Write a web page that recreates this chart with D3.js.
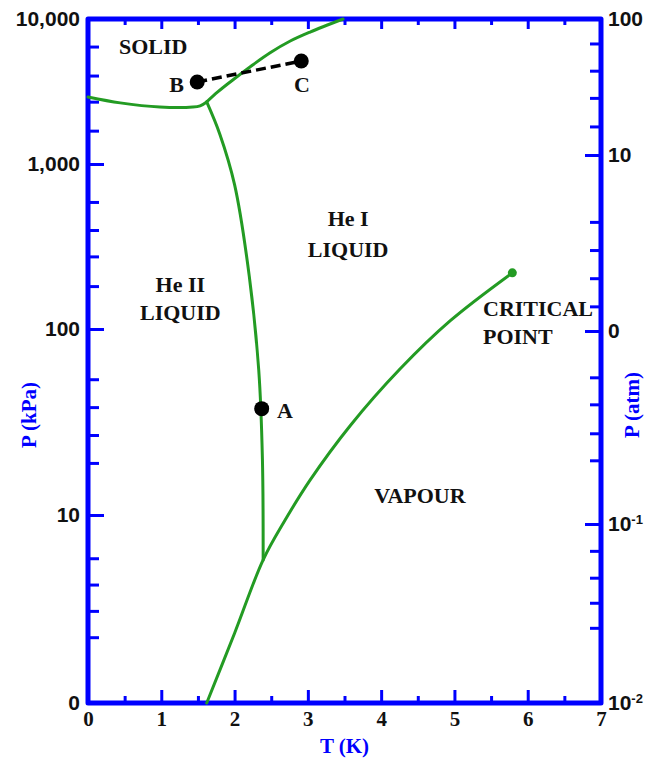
<!DOCTYPE html>
<html><head><meta charset="utf-8">
<script src="https://cdn.jsdelivr.net/npm/d3@7/dist/d3.min.js"></script>
<style>body{margin:0;background:#fff}</style>
</head><body>
<svg id="chart" width="649" height="761"></svg>
<script>
// ---------- data ----------
const tempTicks = [0,1,2,3,4,5,6,7];
const tempMinorTicks = [0.5,1.5,2.5,3.5,4.5,5.5,6.5];
const topMajorTicks = [1,2,3,4,5,6];
// left axis: pressure in kPa (decade exponents), schematic non-uniform decades
const kpaTickExps = [0,1,2,3,4];
const kpaTickLabels = ["0","10","100","1,000","10,000"];
const kpaMinorExps = [3.81,3.61,3.43,3.23, 2.77,2.60,2.44,2.26, 1.73,1.58,1.43,1.28, 0.77,0.63,0.49,0.35];
// right axis: pressure in atm (decade exponents)
const atmTickExps = [-2,-1,0,1,2];
const atmTickLabels = [["10","-2"],["10","-1"],["0",""],["10",""],["100",""]];
const atmMinorExps = [1.82,1.62,1.42,1.21, 0.62,0.46,0.30,0.14, -0.24,-0.38,-0.53,-0.67, -1.15,-1.30,-1.44,-1.58];

// phase boundaries (T in K, P in kPa)
const meltLowT = [0, 0.44, 0.98, 1.43, 1.53, 1.62];
const meltLowP = [2900, 2640, 2470, 2470, 2520, 2680];
const meltHighT = [1.62, 1.77, 1.94, 2.21, 2.48, 2.76, 3.03, 3.48];
const meltHighP = [2680, 3140, 3680, 4670, 5830, 7050, 8130, 10000];
const lambdaT = [1.62, 1.80, 2.00, 2.20, 2.33, 2.38, 2.39];
const lambdaP = [2680, 1600, 750, 210, 60, 20, 5.77];
const vapourT = [1.62, 2.0, 2.39, 2.69, 3.03, 3.58, 4.26, 4.94, 5.79];
const vapourP = [1.0, 2.35, 5.77, 9.40, 15.4, 30.3, 61.1, 112, 219];

const criticalPoint = {T:5.79, P:219};
const pointNames = ["A","B","C"];
const pointT = [2.37, 1.49, 2.91];
const pointP = [37.3, 3680, 5130];

const labelTexts = ["SOLID","B","C","He I","LIQUID","He II","LIQUID","CRITICAL","POINT","VAPOUR","A"];
const labelT = [0.89, 1.31, 2.92, 3.55, 3.55, 1.26, 1.26, 5.39, 5.39, 4.53, 2.58];
const labelP = [5740, 3140, 3140, 419, 275, 168, 113, 120, 83.2, 11.6, 33.4];
const labelAnchor = ["middle","end","middle","middle","middle","middle","middle","start","start","middle","start"];

// ---------- drawing ----------
const BLUE = "#0000ff", GREEN = "#239b23";
const svg = d3.select("#chart");
const x = d3.scaleLinear().domain([0,7]).range([88,601]);
const yExp = d3.scaleLinear().domain([0,1,2,3,4]).range([703,515,329,164,19]);
const yAtm = d3.scaleLinear().domain([-2,-1,0,1,2]).range([703,524,331,155,19]);
const yK = p => yExp(Math.log10(p));

const sans = "'Liberation Sans', Arial, sans-serif";
const serif = "'Liberation Serif', 'Times New Roman', serif";

function styleAxis(g, font, size){
  g.select(".domain").remove();
  g.selectAll(".tick line").attr("stroke", BLUE).attr("stroke-width", 3);
  g.selectAll(".tick text").attr("fill","#111").attr("font-family", font)
    .attr("font-weight","bold").attr("font-size", size);
}

// left major + minor
svg.append("g").attr("transform","translate(88,0)")
  .call(d3.axisLeft(yExp).tickValues(kpaTickExps).tickFormat((d,i)=>kpaTickLabels[i])
    .tickSizeInner(-16).tickSizeOuter(0).tickPadding(8))
  .call(g=>styleAxis(g, sans, 21));
svg.append("g").attr("transform","translate(88,0)")
  .call(d3.axisLeft(yExp).tickValues(kpaMinorExps).tickFormat("").tickSizeInner(-11).tickSizeOuter(0))
  .call(g=>styleAxis(g, sans, 21));

// right major + minor
const rightAx = svg.append("g").attr("transform","translate(601,0)")
  .call(d3.axisRight(yAtm).tickValues(atmTickExps).tickFormat("")
    .tickSizeInner(-16).tickSizeOuter(0).tickPadding(7))
  .call(g=>styleAxis(g, sans, 21));
rightAx.selectAll(".tick text").each(function(d){
  const i = atmTickExps.indexOf(d);
  const t = d3.select(this);
  t.text(null);
  t.append("tspan").text(atmTickLabels[i][0]);
  if (atmTickLabels[i][1]) t.append("tspan").attr("font-size",13).attr("dy","-0.55em").text(atmTickLabels[i][1]);
});
svg.append("g").attr("transform","translate(601,0)")
  .call(d3.axisRight(yAtm).tickValues(atmMinorExps).tickFormat("").tickSizeInner(-11).tickSizeOuter(0))
  .call(g=>styleAxis(g, sans, 21));

// bottom
svg.append("g").attr("transform","translate(0,703)")
  .call(d3.axisBottom(x).tickValues(tempTicks).tickFormat(d3.format("d"))
    .tickSizeInner(-13).tickSizeOuter(0).tickPadding(8))
  .call(g=>styleAxis(g, serif, 21));
svg.append("g").attr("transform","translate(0,703)")
  .call(d3.axisBottom(x).tickValues(tempMinorTicks).tickFormat("").tickSizeInner(-7).tickSizeOuter(0))
  .call(g=>styleAxis(g, serif, 21));
// top
svg.append("g").attr("transform","translate(0,19)")
  .call(d3.axisTop(x).tickValues(topMajorTicks).tickFormat("").tickSizeInner(-10).tickSizeOuter(0))
  .call(g=>styleAxis(g, serif, 21));
svg.append("g").attr("transform","translate(0,19)")
  .call(d3.axisTop(x).tickValues(tempMinorTicks).tickFormat("").tickSizeInner(-6).tickSizeOuter(0))
  .call(g=>styleAxis(g, serif, 21));

// frame
svg.append("rect").attr("x",x(0)).attr("y",yExp(4)).attr("width",x(7)-x(0)).attr("height",yExp(0)-yExp(4))
  .attr("fill","none").attr("stroke",BLUE).attr("stroke-width",5).attr("stroke-linejoin","round");

// axis titles
svg.append("text").attr("transform","translate(36,415) rotate(-90)").attr("text-anchor","middle")
  .attr("fill",BLUE).attr("font-family",serif).attr("font-weight","bold").attr("font-size",21).text("P (kPa)");
svg.append("text").attr("transform","translate(639,405) rotate(-90)").attr("text-anchor","middle")
  .attr("fill",BLUE).attr("font-family",serif).attr("font-weight","bold").attr("font-size",21).text("P (atm)");
svg.append("text").attr("x",x(3.5)).attr("y",753).attr("text-anchor","middle")
  .attr("fill",BLUE).attr("font-family",serif).attr("font-weight","bold").attr("font-size",21).text("T (K)");

// curves
const line = d3.line().x(d=>x(d[0])).y(d=>yK(d[1])).curve(d3.curveCatmullRom.alpha(0.5));
const zip = (a,b)=>a.map((v,i)=>[v,b[i]]);
[[meltLowT,meltLowP],[meltHighT,meltHighP],[lambdaT,lambdaP],[vapourT,vapourP]].forEach(([t,p])=>{
  svg.append("path").attr("d", line(zip(t,p))).attr("fill","none")
    .attr("stroke",GREEN).attr("stroke-width",3).attr("stroke-linecap","round");
});
svg.append("circle").attr("cx",x(criticalPoint.T)).attr("cy",yK(criticalPoint.P)).attr("r",4.5).attr("fill",GREEN);

// dashed B-C
svg.append("line").attr("x1",x(pointT[1])).attr("y1",yK(pointP[1])).attr("x2",x(pointT[2])).attr("y2",yK(pointP[2]))
  .attr("stroke","#000").attr("stroke-width",3.5).attr("stroke-dasharray","10,5");
svg.selectAll("circle.pt").data(pointNames).join("circle").attr("class","pt")
  .attr("cx",(d,i)=>x(pointT[i])).attr("cy",(d,i)=>yK(pointP[i])).attr("r",7.5).attr("fill","#000");

// labels
svg.selectAll("text.lab").data(labelTexts).join("text").attr("class","lab")
  .attr("x",(d,i)=>x(labelT[i])).attr("y",(d,i)=>yK(labelP[i]))
  .attr("text-anchor",(d,i)=>labelAnchor[i])
  .attr("font-family",serif).attr("font-weight","bold").attr("font-size",22).attr("fill","#111")
  .text(d=>d);
</script>
</body></html>
